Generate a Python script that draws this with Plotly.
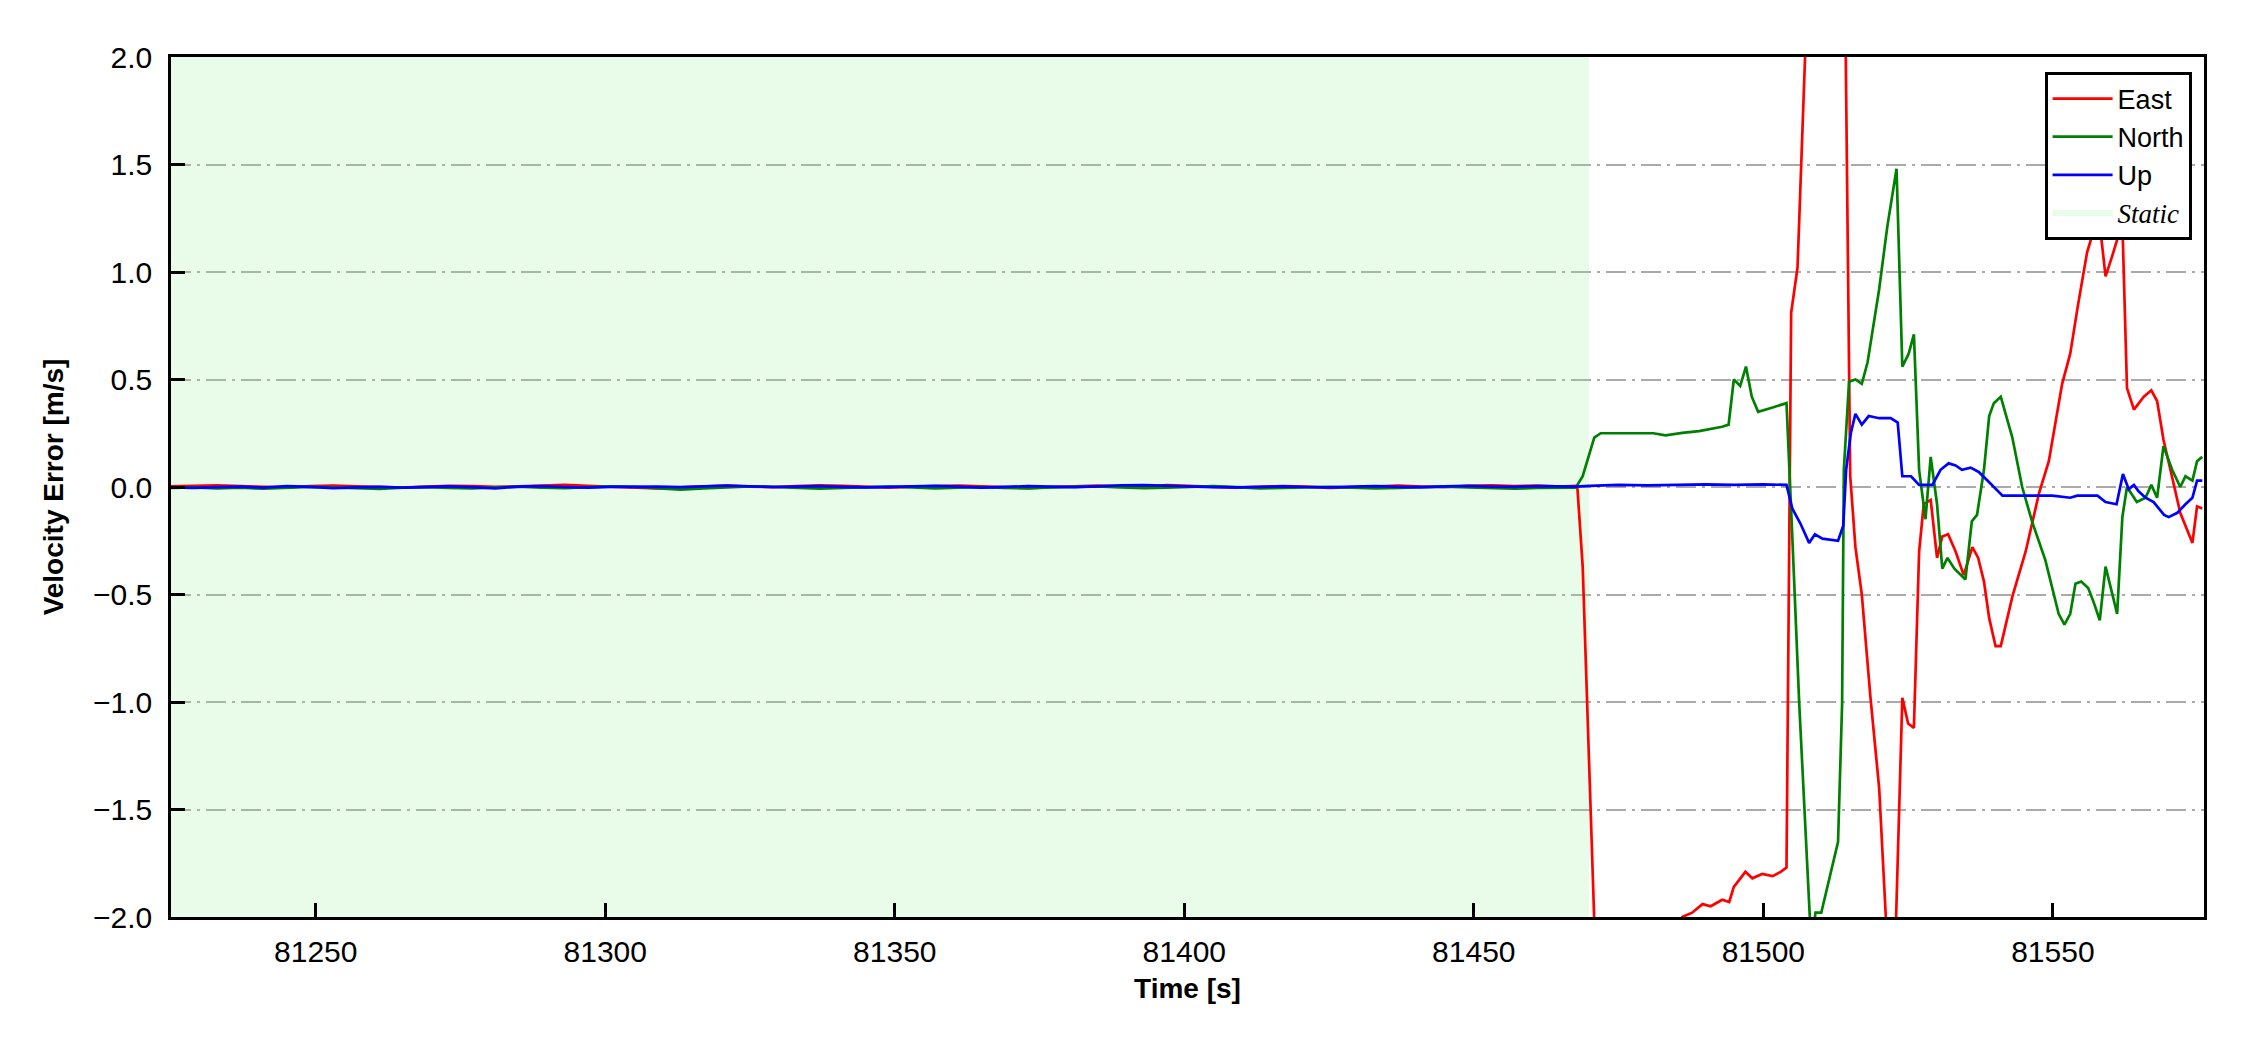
import plotly.graph_objects as go

# ---------------- data ----------------
static_start = 81225.0
static_end = 81469.9

t_static = list(range(81225, 81466, 4))

east_static = [
    0.003, 0.006, 0.008, 0.004, 0.002, -0.002, 0.004, 0.006, 0.003, 0.000,
    -0.003, 0.002, 0.005, 0.004, 0.001, 0.003, 0.007, 0.010, 0.005, 0.001,
    -0.004, -0.006, -0.002, 0.003, 0.006, 0.002, -0.001, 0.004, 0.008, 0.005,
    0.001, -0.003, 0.002, 0.005, 0.007, 0.003, -0.002, -0.005, -0.001, 0.004,
    0.006, 0.003, 0.001, 0.009, 0.006, 0.002, -0.003, 0.001, 0.004, 0.002,
    -0.004, -0.002, 0.003, 0.006, 0.002, 0.000, 0.005, 0.008, 0.004, 0.006,
    0.002,
]
north_static = [
    -0.004, -0.002, -0.006, -0.003, -0.008, -0.004, 0.001, -0.002, -0.005, -0.009,
    -0.003, -0.001, -0.004, -0.006, -0.002, 0.002, -0.003, -0.005, -0.001, 0.003,
    0.001, -0.004, -0.012, -0.006, -0.002, 0.003, 0.001, -0.005, -0.008, -0.004,
    -0.001, 0.002, -0.002, -0.006, -0.003, -0.001, -0.004, -0.007, -0.002, 0.001,
    0.003, -0.002, -0.005, -0.003, 0.002, 0.004, -0.001, -0.006, -0.004, -0.002,
    0.001, -0.003, -0.007, -0.004, -0.001, 0.002, -0.002, -0.005, -0.008, -0.004,
    -0.002,
]
up_static = [
    -0.002, -0.004, -0.001, 0.002, -0.003, 0.004, 0.001, -0.005, -0.002, 0.001,
    -0.003, 0.000, 0.003, -0.001, -0.006, 0.002, 0.004, 0.000, -0.003, 0.001,
    0.003, 0.002, -0.001, 0.004, 0.006, 0.003, 0.000, 0.002, 0.004, 0.001,
    -0.002, 0.001, 0.003, 0.005, 0.002, -0.003, 0.001, 0.004, 0.002, -0.001,
    0.003, 0.008, 0.009, 0.005, 0.002, -0.001, -0.002, 0.001, 0.003, 0.000,
    -0.002, 0.002, 0.004, 0.001, -0.001, 0.003, 0.005, 0.002, 0.001, 0.004,
    0.002,
]

east_t_dyn = [
    81467.6, 81467.9, 81468.8, 81471.2, 81476.0, 81481.0, 81484.0, 81486.0, 81487.7,
    81489.5, 81490.9, 81492.9, 81494.1, 81494.9, 81496.9, 81498.1, 81499.8, 81501.6,
    81503.0, 81504.0, 81504.8, 81505.9, 81508.0, 81510.0, 81512.0, 81514.0, 81515.0,
    81515.9, 81517.0, 81518.5, 81520.0, 81522.3, 81524.0, 81525.0, 81526.0, 81526.9,
    81527.7, 81528.9, 81530.0, 81530.9, 81531.9, 81533.2, 81534.6, 81536.1, 81537.1,
    81538.1, 81539.0, 81540.1, 81541.0, 81543.0, 81545.3, 81547.6, 81549.3, 81551.6,
    81553.0, 81554.3, 81555.9, 81557.9, 81559.1, 81560.2, 81562.0, 81562.8, 81564.0,
    81565.7, 81567.0, 81568.0, 81569.1, 81570.3, 81572.0, 81574.1, 81574.9, 81575.8,
]
east_v_dyn = [
    0.005, -0.01, -0.37, -2.35, -3.2, -2.9, -2.4, -2.0, -1.98,
    -1.94, -1.95, -1.92, -1.93, -1.86, -1.79, -1.82, -1.80, -1.81,
    -1.79, -1.77, 0.81, 1.02, 2.6, 3.4, 3.1, 2.6, 0.05,
    -0.28, -0.50, -0.98, -1.40, -2.6, -0.98, -1.10, -1.12, -0.30,
    -0.08, -0.06, -0.33, -0.23, -0.22, -0.30, -0.41, -0.28, -0.33,
    -0.44, -0.61, -0.74, -0.74, -0.51, -0.30, -0.03, 0.12, 0.48,
    0.62, 0.84, 1.09, 1.27, 0.98, 1.07, 1.23, 0.46, 0.36,
    0.42, 0.45, 0.40, 0.22, 0.08, -0.12, -0.26, -0.09, -0.10,
]

north_t_dyn = [
    81467.6, 81468.8, 81470.8, 81471.9, 81475.0, 81478.0, 81481.0, 81483.1, 81486.0,
    81488.9, 81492.9, 81494.0, 81494.9, 81496.0, 81497.0, 81498.0, 81499.1, 81501.6,
    81504.0, 81505.0, 81506.2, 81508.3, 81509.0, 81510.0, 81512.9, 81513.6, 81513.9,
    81514.8, 81515.9, 81517.0, 81518.0, 81520.0, 81521.4, 81523.0, 81524.0, 81525.1,
    81526.0, 81526.9, 81528.0, 81528.9, 81530.0, 81530.9, 81531.8, 81533.0, 81534.9,
    81536.0, 81536.9, 81538.1, 81539.0, 81539.8, 81541.0, 81543.0, 81544.7, 81546.4,
    81548.7, 81551.0, 81552.0, 81553.0, 81553.9, 81554.9, 81556.1, 81557.1, 81558.1,
    81559.1, 81560.1, 81561.1, 81562.0, 81562.8, 81564.5, 81566.0, 81567.0, 81568.0,
    81569.1, 81570.6, 81572.0, 81572.9, 81574.1, 81574.9, 81575.8,
]
north_v_dyn = [
    -0.003, 0.05, 0.23, 0.25, 0.25, 0.248, 0.25, 0.24, 0.252,
    0.26, 0.28, 0.29, 0.50, 0.47, 0.56, 0.42, 0.35, 0.37,
    0.39, -0.23, -1.01, -2.15, -1.98, -1.98, -1.65, -1.01, 0.08,
    0.49, 0.50, 0.48, 0.58, 0.92, 1.21, 1.48, 0.56, 0.62,
    0.71, 0.08, -0.15, 0.14, -0.08, -0.38, -0.33, -0.38, -0.43,
    -0.16, -0.13, 0.08, 0.33, 0.39, 0.42, 0.23, 0.0, -0.16,
    -0.34, -0.59, -0.64, -0.59, -0.45, -0.44, -0.47, -0.54, -0.62,
    -0.37, -0.48, -0.59, -0.14, 0.0, -0.07, -0.05, 0.01, -0.05,
    0.19, 0.08, 0.0, 0.05, 0.03, 0.12, 0.14,
]

up_t_dyn = [
    81467.6, 81470.0, 81475.0, 81480.0, 81485.0, 81490.0, 81495.0, 81500.0, 81504.0,
    81505.0, 81506.4, 81507.9, 81508.9, 81510.2, 81512.9, 81513.8, 81514.3, 81515.1,
    81515.9, 81517.0, 81518.2, 81520.0, 81522.0, 81523.2, 81524.0, 81525.5, 81526.9,
    81529.2, 81530.6, 81532.0, 81533.2, 81534.3, 81535.8, 81537.2, 81538.7, 81540.1,
    81541.3, 81544.1, 81549.9, 81553.0, 81554.2, 81557.7, 81559.1, 81561.0, 81562.1,
    81563.1, 81564.0, 81564.8, 81566.0, 81567.4, 81569.2, 81570.0, 81571.5, 81572.9,
    81574.1, 81574.9, 81575.8,
]
up_v_dyn = [
    0.002, 0.005, 0.01, 0.008, 0.01, 0.012, 0.01, 0.012, 0.01,
    -0.10, -0.17, -0.26, -0.22, -0.24, -0.25, -0.18, 0.08, 0.25,
    0.34, 0.29, 0.33, 0.32, 0.32, 0.30, 0.05, 0.05, 0.01,
    0.01, 0.08, 0.11, 0.10, 0.08, 0.09, 0.07, 0.03, -0.01,
    -0.04, -0.04, -0.04, -0.05, -0.04, -0.04, -0.07, -0.08, 0.06,
    -0.01, 0.01, -0.02, -0.05, -0.07, -0.13, -0.14, -0.12, -0.08,
    -0.05, 0.03, 0.03,
]

x_ticks = [81250, 81300, 81350, 81400, 81450, 81500, 81550]
y_ticks = [-2.0, -1.5, -1.0, -0.5, 0.0, 0.5, 1.0, 1.5, 2.0]
x_range = [81225.0, 81576.1]
y_range = [-2.0, 2.0]

# ---------------- figure ----------------
FONT = "Liberation Sans, Arial, sans-serif"

fig = go.Figure()

fig.add_trace(go.Scatter(
    x=[static_start, static_end, static_end, static_start, static_start],
    y=[y_range[0], y_range[0], y_range[1], y_range[1], y_range[0]],
    fill="toself", mode="none",
    fillcolor="rgba(144,238,144,0.2)",
    name='<span style="font-family:Liberation Serif, Times New Roman, serif"><i>Static</i></span>',
    legendrank=4, hoverinfo="skip",
))

series = [
    ("East", east_static, east_t_dyn, east_v_dyn, "#ff0000", 1),
    ("North", north_static, north_t_dyn, north_v_dyn, "#008000", 2),
    ("Up", up_static, up_t_dyn, up_v_dyn, "#0000ff", 3),
]
for name, vs, td, vd, col, rank in series:
    fig.add_trace(go.Scatter(
        x=t_static + td, y=vs + vd, mode="lines", name=name,
        line=dict(color=col, width=2.7), legendrank=rank,
    ))

axis_common = dict(
    showline=True, linecolor="black", linewidth=2.6, mirror=True,
    ticks="inside", ticklen=14, tickwidth=2.6, tickcolor="black",
    tickfont=dict(family=FONT, size=30, color="black"),
    zeroline=False,
)

fig.update_xaxes(
    range=x_range, tickvals=x_ticks, tickformat="d", showgrid=False,
    title=dict(text="<b>Time [s]</b>", font=dict(family=FONT, size=28, color="black"), standoff=12),
    ticklabelstandoff=6,
    **axis_common,
)
fig.update_yaxes(
    range=y_range, tickvals=y_ticks, tickformat=".1f",
    showgrid=True, gridcolor="#aaaaaa", gridwidth=2.2, griddash="20px,6px,3px,6px",
    title=dict(text="<b>Velocity Error [m/s]</b>", font=dict(family=FONT, size=28, color="black"), standoff=22),
    ticklabelstandoff=10,
    **axis_common,
)

fig.update_layout(
    width=2250, height=1050,
    margin=dict(l=163, r=54, t=49, b=141, autoexpand=False),
    paper_bgcolor="white", plot_bgcolor="white",
    showlegend=True,
    legend=dict(
        x=0.9941, y=0.9826, xanchor="right", yanchor="top",
        bgcolor="white", bordercolor="black", borderwidth=2.6,
        font=dict(family=FONT, size=27, color="black"),
        tracegroupgap=0, itemwidth=60,
    ),
)

fig.write_html("out.html")
